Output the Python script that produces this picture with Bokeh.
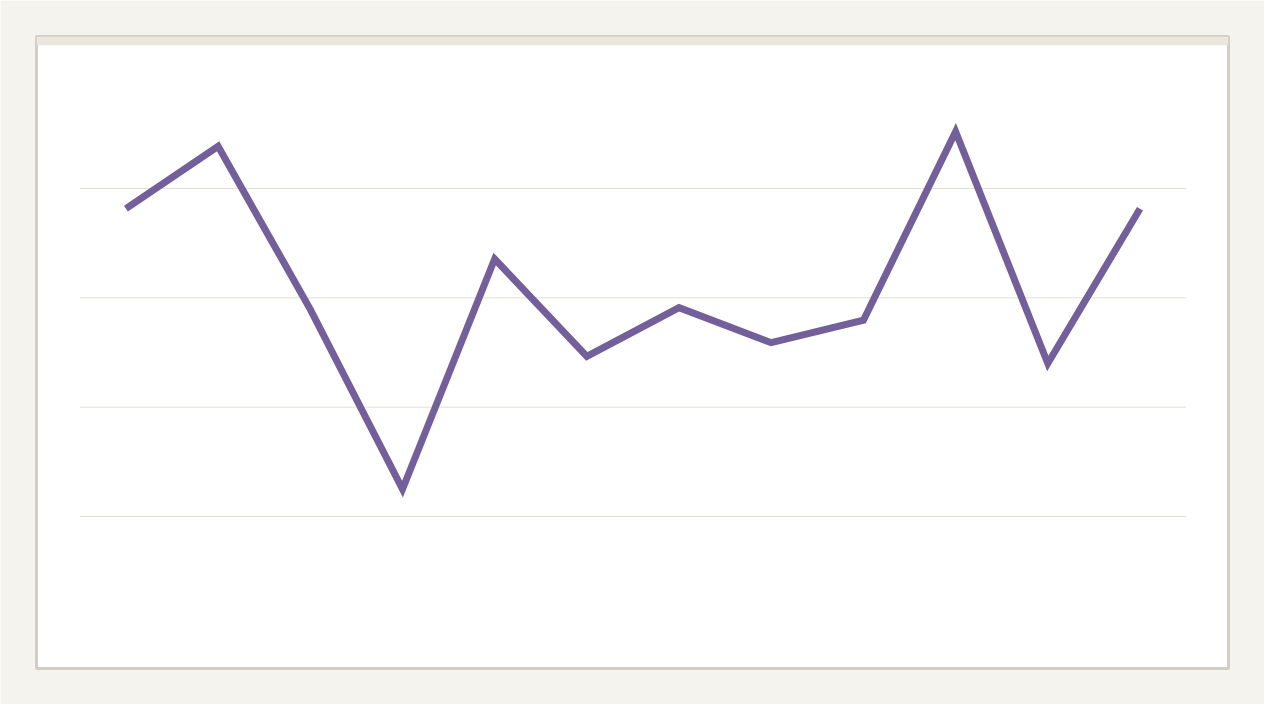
from bokeh.plotting import figure
from bokeh.models import BoxAnnotation, Range1d
from bokeh.embed import file_html
from bokeh.resources import INLINE

# data
points = list(range(12))
values = [76.3, 87.7, 57.9, 25.0, 67.1, 49.3, 58.2, 51.8, 55.9, 90.4, 48.0, 76.3]
grid_ticks = [20, 40, 60, 80]

p = figure(width=1264, height=704, output_backend="svg", toolbar_location=None,
           x_axis_type=None, y_axis_type=None,
           x_range=Range1d(-0.97, 11.96), y_range=Range1d(-7.8, 107.8),
           min_border_left=36, min_border_right=36, min_border_top=36, min_border_bottom=36)
p.background_fill_color = "#ffffff"
p.border_fill_color = "#f4f3ee"
p.outline_line_color = "#d2cec4"
p.outline_line_width = 3

# top strip inside the panel
p.add_layout(BoxAnnotation(bottom=106.2, top=107.8, fill_color="#ebe7de", fill_alpha=1.0,
                           line_alpha=0, level="underlay"))

# grid lines (bounded)
p.segment(x0=[-0.5] * len(grid_ticks), x1=[11.5] * len(grid_ticks), y0=grid_ticks, y1=grid_ticks,
          line_color="#e2e0d3", line_width=1)

p.line(points, values, line_color="#735f9a", line_width=7, line_join="miter", line_cap="butt")

open("out.html", "w").write(file_html(p, INLINE))
